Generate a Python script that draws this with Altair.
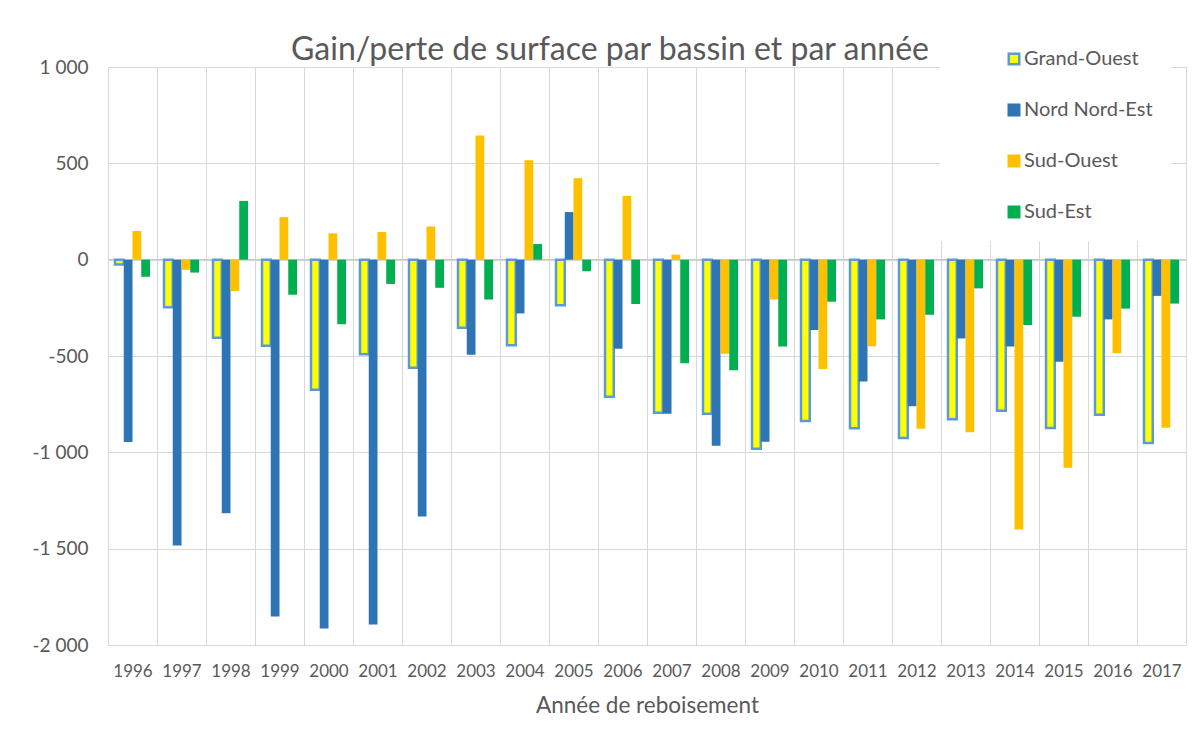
import altair as alt
import pandas as pd

years = [str(y) for y in range(1996, 2018)]
bassins = ["Grand-Ouest", "Nord Nord-Est", "Sud-Ouest", "Sud-Est"]

grand_ouest = [-25, -247, -405, -447, -675, -491, -561, -353, -444, -237, -712,
               -795, -800, -982, -838, -875, -926, -828, -784, -874, -805, -951]
nord_nord_est = [-947, -1484, -1316, -1852, -1914, -1894, -1333, -493, -279, 247, -463,
                 -800, -966, -945, -365, -633, -761, -409, -451, -530, -310, -188]
sud_ouest = [149, -53, -163, 221, 137, 144, 172, 645, 516, 423, 331,
             26, -488, -207, -567, -449, -877, -896, -1400, -1080, -486, -872]
sud_est = [-89, -67, 305, -182, -335, -126, -146, -207, 81, -60, -230,
           -537, -574, -451, -218, -310, -286, -149, -339, -296, -254, -228]

y_ticks = [1000, 500, 0, -500, -1000, -1500, -2000]

fills = ["#FFFF00", "#2E75B6", "#FFC000", "#00B050"]
strokes = ["#5B9BD5", "#2E75B6", "#FFC000", "#00B050"]

rows = []
for b, vals in zip(bassins, [grand_ouest, nord_nord_est, sud_ouest, sud_est]):
    for a, v in zip(years, vals):
        rows.append({"annee": a, "bassin": b, "valeur": v})
df = pd.DataFrame(rows)
zero_df = pd.DataFrame({"valeur": [0]})

FONT = "Lato"
TXT = "#595959"
GRID = "#d9d9d9"

y_enc = alt.Y(
    "valeur:Q",
    scale=alt.Scale(domain=[-2000, 1000], nice=False, zero=False),
    axis=alt.Axis(
        values=y_ticks, title=None, domain=False, ticks=False, grid=True,
        gridColor=GRID, labelPadding=20, labelFontSize=19, labelFont=FONT,
        labelColor=TXT,
        labelExpr="datum.value == 0 ? '0' : (datum.value < 0 ? '-' : '') + replace(format(abs(datum.value), ','), ',', ' ')",
    ),
)

zero_rule = alt.Chart(zero_df).mark_rule(color="#bfbfbf", strokeWidth=1).encode(y=y_enc)

legend = alt.Legend(
    title=None, orient="none", legendX=832, legendY=-36, direction="vertical",
    symbolType="square", symbolSize=110, symbolStrokeWidth=2.5, labelFontSize=20,
    labelFont=FONT, labelColor=TXT, rowPadding=29, fillColor="white", padding=18,
    symbolOffset=46, labelOffset=0,
)

bars = alt.Chart(df).mark_bar().encode(
    x=alt.X(
        "annee:N", sort=years,
        scale=alt.Scale(paddingInner=0, paddingOuter=0),
        axis=alt.Axis(
            title="Année de reboisement", grid=True, gridColor=GRID, tickBand="extent",
            ticks=False, domain=False, labelAngle=0, labelFontSize=17, labelFont=FONT,
            labelColor=TXT, labelPadding=18, titleFontSize=22.5, titleFont=FONT,
            titleColor=TXT, titleFontWeight="normal", titlePadding=15,
        ),
    ),
    xOffset=alt.XOffset("bassin:N", sort=bassins,
                        scale=alt.Scale(domain=bassins, paddingInner=0, paddingOuter=0.8)),
    y=y_enc,
    color=alt.Color("bassin:N", sort=bassins,
                    scale=alt.Scale(domain=bassins, range=fills), legend=legend),
    stroke=alt.Stroke("bassin:N", sort=bassins,
                      scale=alt.Scale(domain=bassins, range=strokes), legend=legend),
    strokeWidth=alt.condition(alt.datum.bassin == "Grand-Ouest", alt.value(2.5), alt.value(0)),
)

chart = alt.layer(zero_rule, bars).properties(
    width=1078, height=578,
    title=alt.TitleParams(
        "Gain/perte de surface par bassin et par année", fontSize=32, font=FONT,
        color=TXT, fontWeight="normal", anchor="middle", dx=-37, dy=66, offset=5,
        baseline="alphabetic",
    ),
    autosize=alt.AutoSizeParams(type="none"),
    padding={"left": 100, "top": 59, "right": 9, "bottom": 88},
).configure_view(stroke=GRID).configure(background="white")

chart.save("out.html", embed_options={"renderer": "svg", "actions": False})
